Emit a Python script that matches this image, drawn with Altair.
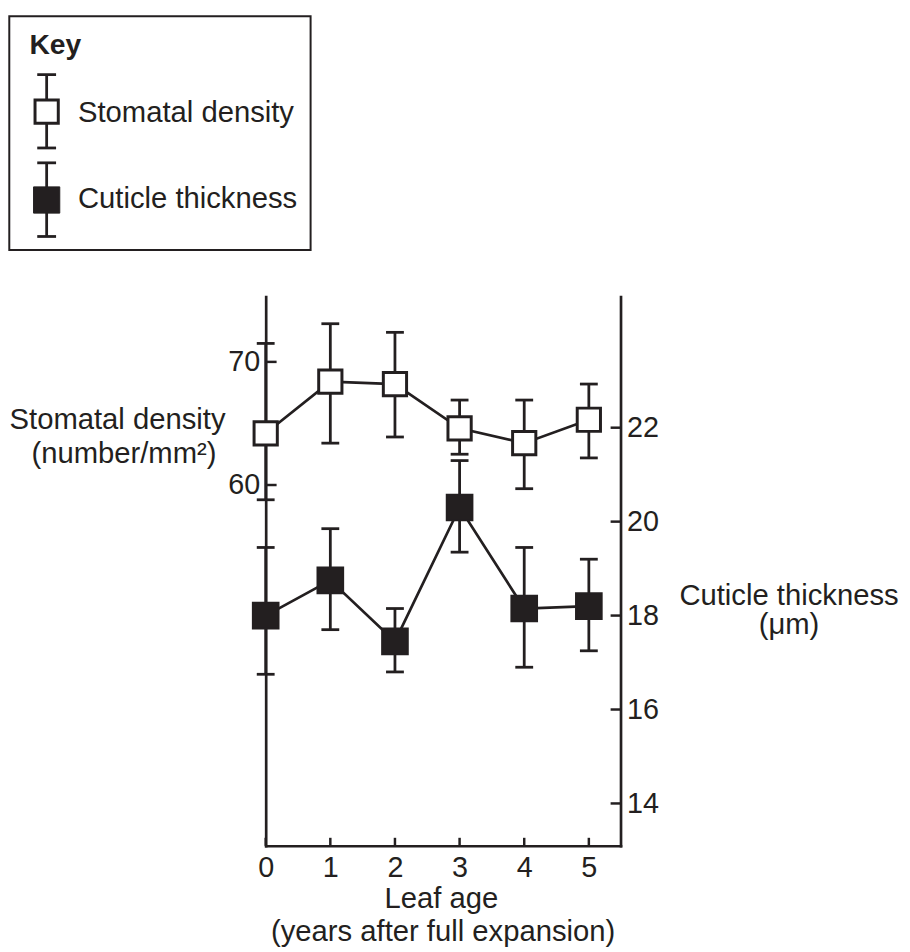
import altair as alt
import pandas as pd

# ---------------- data ----------------
years = [0, 1, 2, 3, 4, 5]
stomatal_mean = [64.2, 68.4, 68.2, 64.6, 63.4, 65.3]
stomatal_low = [58.8, 63.4, 63.9, 62.5, 59.7, 62.2]
stomatal_high = [71.5, 73.1, 72.4, 66.9, 66.9, 68.2]
cuticle_mean = [18.0, 18.75, 17.45, 20.3, 18.15, 18.2]
cuticle_low = [16.75, 17.7, 16.8, 19.35, 16.9, 17.25]
cuticle_high = [19.45, 19.85, 18.15, 21.3, 19.45, 19.2]
x_tick_values = [0, 1, 2, 3, 4, 5]
stomatal_tick_values = [60, 70]
cuticle_tick_values = [14, 16, 18, 20, 22]

INK = "#231f20"
FONT = "Liberation Sans"
W, H = 358, 554
FS = 29.5

stom = pd.DataFrame({"year": years, "mean": stomatal_mean,
                     "low": stomatal_low, "high": stomatal_high})
cut = pd.DataFrame({"year": years, "mean": cuticle_mean,
                    "low": cuticle_low, "high": cuticle_high})
xt = pd.DataFrame({"v": x_tick_values})
st = pd.DataFrame({"v": stomatal_tick_values})
ct = pd.DataFrame({"v": cuticle_tick_values})
one = pd.DataFrame({"k": [0]})

x_scale = alt.Scale(domain=[0, 5.49], nice=False, zero=False)
left_scale = alt.Scale(domain=[30.7, 75.3], nice=False, zero=False)
right_scale = alt.Scale(domain=[13.1, 24.79], nice=False, zero=False)

common_axis = dict(title=None, ticks=False, tickSize=0, labelFontSize=29,
                   labelFont=FONT, labelColor=INK, domainColor=INK, labelFlush=False,
                   domainWidth=2.7, domainCap="square", grid=False, format="d")
x_axis = alt.Axis(values=x_tick_values, labelPadding=8, labelAngle=0, **common_axis)
left_axis = alt.Axis(orient="left", values=stomatal_tick_values, labelPadding=6, **common_axis)
right_axis = alt.Axis(orient="right", values=cuticle_tick_values, labelPadding=6, **common_axis)

X = alt.X("year:Q", scale=x_scale, axis=x_axis)
X2 = alt.X2("year")


def series(df, scale, axis, square):
    def Y(f):
        return alt.Y(f"{f}:Q", scale=scale, axis=axis)
    line = alt.Chart(df).mark_line(color=INK, strokeWidth=2.7).encode(x=X, y=Y("mean"))
    err = alt.Chart(df).mark_rule(color=INK, strokeWidth=2.8).encode(
        x=X, y=Y("low"), y2=alt.Y2("high"))
    cap_hi = alt.Chart(df).mark_rule(color=INK, strokeWidth=2.8, xOffset=-9, x2Offset=9).encode(
        x=X, x2=X2, y=Y("high"))
    cap_lo = alt.Chart(df).mark_rule(color=INK, strokeWidth=2.8, xOffset=-9, x2Offset=9).encode(
        x=X, x2=X2, y=Y("low"))
    pts = alt.Chart(df).mark_square(opacity=1, **square).encode(x=X, y=Y("mean"))
    return [line, err, cap_hi, cap_lo, pts], Y


open_sq = dict(size=550, fill="white", stroke=INK, strokeWidth=3)
solid_sq = dict(size=670, fill=INK, stroke=INK, strokeWidth=2)

stom_layers, YS = series(stom, left_scale, left_axis, open_sq)
cut_layers, YC = series(cut, right_scale, right_axis, solid_sq)

# inward axis ticks
x_ticks = alt.Chart(xt).mark_rule(color=INK, strokeWidth=2.5).encode(
    x=alt.X("v:Q", scale=x_scale, axis=x_axis), y=alt.value(H), y2=alt.value(H - 8))
left_ticks = alt.Chart(st).mark_rule(color=INK, strokeWidth=2.5).encode(
    y=alt.Y("v:Q", scale=left_scale, axis=left_axis), x=alt.value(0), x2=alt.value(11))
right_ticks = alt.Chart(ct).mark_rule(color=INK, strokeWidth=2.5).encode(
    y=alt.Y("v:Q", scale=right_scale, axis=right_axis), x=alt.value(W - 10), x2=alt.value(W))

stom_group = alt.layer(*stom_layers, x_ticks, left_ticks)
cut_group = alt.layer(*cut_layers, right_ticks)


def txt(text, x, y, size=FS, weight="normal", align="center"):
    return alt.Chart(one).mark_text(text=text, fontSize=size, fontWeight=weight, align=align,
                                    baseline="alphabetic", font=FONT, color=INK).encode(
        x=alt.value(x), y=alt.value(y))


def vrule(x, y1, y2, w=2.8):
    return alt.Chart(one).mark_rule(color=INK, strokeWidth=w).encode(
        x=alt.value(x), y=alt.value(y1), y2=alt.value(y2))


def hrule(x1, x2, y, w=2.8):
    return alt.Chart(one).mark_rule(color=INK, strokeWidth=w).encode(
        x=alt.value(x1), x2=alt.value(x2), y=alt.value(y))


def sym(cx, top, bottom, cy, square):
    return [vrule(cx, top, bottom), hrule(cx - 9.5, cx + 9.5, top), hrule(cx - 9.5, cx + 9.5, bottom),
            alt.Chart(one).mark_square(opacity=1, **square).encode(x=alt.value(cx), y=alt.value(cy))]


key_box = alt.Chart(one).mark_rect(fill="white", stroke=INK, strokeWidth=2).encode(
    x=alt.value(-258.7), x2=alt.value(45.3), y=alt.value(-283), y2=alt.value(-47))

legend = [key_box,
          txt("Key", -238.4, -245, size=28.5, weight="bold", align="left"),
          *sym(-221, -224, -150, -186.7, open_sq),
          txt("Stomatal density", -189.4, -176.7, align="left"),
          *sym(-221, -135, -60.7, -97.5, dict(size=700, fill=INK, stroke=INK, strokeWidth=1)),
          txt("Cuticle thickness", -189.4, -89.3, align="left")]

titles = [txt("Stomatal density", -149.5, 133.3),
          txt("(number/mm²)", -143, 168.3),
          txt("Cuticle thickness", 528, 310.7),
          txt("(μm)", 528, 340),
          txt("Leaf age", 177.3, 616.7),
          txt("(years after full expansion)", 179, 650)]

chart = alt.layer(stom_group, cut_group, *legend, *titles).resolve_scale(
    y="independent"
).properties(
    width=W, height=H,
    autosize=alt.AutoSizeParams(type="none"),
    padding={"left": 260, "top": 287, "right": 284, "bottom": 103},
).configure_view(stroke=None)

chart.save("out.html", embed_options={"renderer": "svg", "actions": False})
